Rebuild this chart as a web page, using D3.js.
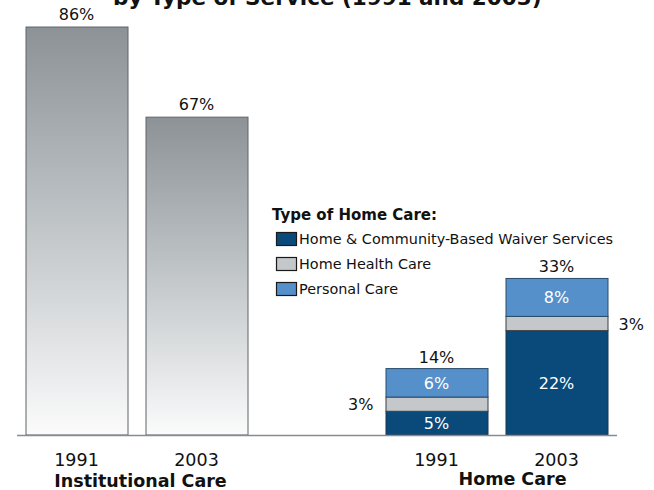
<!DOCTYPE html>
<html><head><meta charset="utf-8">
<script src="https://cdn.jsdelivr.net/npm/d3@7"></script>
<style>html,body{margin:0;padding:0;background:#fff;overflow:hidden}</style>
</head><body>
<svg id="chart" width="654" height="490"></svg>
<script>
// ---- data ----
const titleText = "by Type of Service (1991 and 2003)";
const slots = ["inst1991", "inst2003", "gap", "home1991", "home2003"];
const yearLabels = ["1991", "2003", "", "1991", "2003"];
const institutionalYears = ["inst1991", "inst2003"];
const institutionalValues = [86, 67];
const homeYears = ["home1991", "home2003"];
const homeSeries = ["Home & Community-Based Waiver Services", "Home Health Care", "Personal Care"];
const waiverValues = [5, 22];
const homeHealthValues = [3, 3];
const personalValues = [6, 8];
const homeTotals = [14, 33];
const groupLabels = ["Institutional Care", "Home Care"];
const legendTitle = "Type of Home Care:";

// ---- layout ----
const svg = d3.select("#chart");
const font = "'DejaVu Sans', Verdana, sans-serif";
const baseY = 435;
const x = d3.scaleBand().domain(slots).range([16.5, 616.5]).paddingInner(0.15).paddingOuter(0.075);
const y = d3.scaleLinear().domain([0, 100]).range([baseY, baseY - 474.4]);
const seriesColors = d3.scaleOrdinal().domain(homeSeries).range(["#0a4a7b", "#c4c8ca", "#5590cb"]);
const seriesStroke = d3.scaleOrdinal().domain(homeSeries).range(["#1b3550", "#3a3f44", "#2a4a6a"]);

// gradient
const defs = svg.append("defs");
const grad = defs.append("linearGradient").attr("id", "instGrad")
  .attr("x1", 0).attr("y1", 0).attr("x2", 0).attr("y2", 1);
grad.append("stop").attr("offset", "0%").attr("stop-color", "#8c9296");
grad.append("stop").attr("offset", "45%").attr("stop-color", "#bcc1c4");
grad.append("stop").attr("offset", "100%").attr("stop-color", "#fbfbfb");

// title (cut off at top)
svg.append("text").attr("x", 113).attr("y", 4.5).attr("text-anchor", "start")
  .attr("font-family", font).attr("font-weight", "bold").attr("font-size", 21.5)
  .attr("fill", "#111").text(titleText);

// institutional bars
const inst = institutionalYears.map((k, i) => ({key: k, value: institutionalValues[i]}));
svg.selectAll("rect.inst").data(inst).join("rect").attr("class", "inst")
  .attr("x", d => x(d.key) + 0.5).attr("width", x.bandwidth())
  .attr("y", d => y(d.value)).attr("height", d => baseY - y(d.value))
  .attr("fill", "url(#instGrad)").attr("stroke", "#5e6468").attr("stroke-width", 1);
svg.selectAll("text.instLbl").data(inst).join("text").attr("class", "instLbl")
  .attr("x", d => x(d.key) + x.bandwidth() / 2).attr("y", d => y(d.value) - 7)
  .attr("text-anchor", "middle").attr("font-family", font).attr("font-size", 16)
  .attr("fill", "#111").text(d => d.value + "%");

// stacked home bars
const homeRows = homeYears.map((k, i) => ({
  key: k,
  [homeSeries[0]]: waiverValues[i],
  [homeSeries[1]]: homeHealthValues[i],
  [homeSeries[2]]: personalValues[i]
}));
const stacked = d3.stack().keys(homeSeries)(homeRows);
const segs = [];
stacked.forEach(layer => layer.forEach((s, i) => segs.push({series: layer.key, idx: i, key: s.data.key, y0: s[0], y1: s[1]})));
svg.selectAll("rect.seg").data(segs).join("rect").attr("class", "seg")
  .attr("x", d => x(d.key) + 0.5).attr("width", x.bandwidth())
  .attr("y", d => y(d.y1)).attr("height", d => y(d.y0) - y(d.y1))
  .attr("fill", d => seriesColors(d.series)).attr("stroke", d => seriesStroke(d.series)).attr("stroke-width", 1);

// inside labels (waiver & personal)
svg.selectAll("text.segIn").data(segs.filter(d => d.series !== homeSeries[1])).join("text").attr("class", "segIn")
  .attr("x", d => x(d.key) + x.bandwidth() / 2).attr("y", d => (y(d.y0) + y(d.y1)) / 2)
  .attr("dy", "0.37em").attr("text-anchor", "middle").attr("font-family", font).attr("font-size", 16)
  .attr("fill", "#fff").text(d => (d.y1 - d.y0) + "%");
// outside labels (home health)
svg.selectAll("text.segOut").data(segs.filter(d => d.series === homeSeries[1])).join("text").attr("class", "segOut")
  .attr("x", d => d.idx === 0 ? x(d.key) - 12 : x(d.key) + x.bandwidth() + 11)
  .attr("y", d => (y(d.y0) + y(d.y1)) / 2).attr("dy", "0.38em")
  .attr("text-anchor", d => d.idx === 0 ? "end" : "start")
  .attr("font-family", font).attr("font-size", 16).attr("fill", "#111")
  .text(d => (d.y1 - d.y0) + "%");
// totals
svg.selectAll("text.tot").data(homeYears.map((k, i) => ({key: k, value: homeTotals[i]}))).join("text").attr("class", "tot")
  .attr("x", d => x(d.key) + x.bandwidth() / 2).attr("y", d => y(d.value) - 6)
  .attr("text-anchor", "middle").attr("font-family", font).attr("font-size", 16)
  .attr("fill", "#111").text(d => d.value + "%");

// baseline axis
const axis = d3.axisBottom(x).tickSize(0).tickFormat((d, i) => yearLabels[i]);
const ax = svg.append("g").attr("transform", `translate(0,${baseY})`).call(axis);
ax.select(".domain").attr("stroke", "#848c94").attr("stroke-width", 1.5);
ax.selectAll("text").attr("font-family", font).attr("font-size", 17.5).attr("fill", "#111").attr("dy", 0).attr("y", 31);

// group labels
const groupX = [
  (x("inst1991") + x("inst2003") + x.bandwidth()) / 2 + 4,
  (x("home1991") + x("home2003") + x.bandwidth()) / 2 + 16
];
const groupY = [486.5, 485];
svg.selectAll("text.grp").data(groupLabels).join("text").attr("class", "grp")
  .attr("x", (d, i) => groupX[i]).attr("y", (d, i) => groupY[i])
  .attr("text-anchor", "middle").attr("font-family", font)
  .attr("font-weight", "bold").attr("font-size", 17.5).attr("fill", "#111").text(d => d);

// legend
const lg = svg.append("g").attr("transform", "translate(272,0)");
lg.append("text").attr("x", 0).attr("y", 220).attr("font-family", font).attr("font-weight", "bold")
  .attr("font-size", 15).attr("fill", "#111").text(legendTitle);
const items = lg.selectAll("g.item").data(homeSeries).join("g").attr("class", "item")
  .attr("transform", (d, i) => `translate(0,${232 + i * 25})`);
items.append("rect").attr("x", 4.5).attr("y", 0.5).attr("width", 20).attr("height", 13)
  .attr("fill", d => seriesColors(d)).attr("stroke", "#1a1a1a").attr("stroke-width", 1.2);
items.append("text").attr("x", 27).attr("y", 12).attr("font-family", font).attr("font-size", 14.4)
  .attr("fill", "#111").text(d => d);
</script>
</body></html>
